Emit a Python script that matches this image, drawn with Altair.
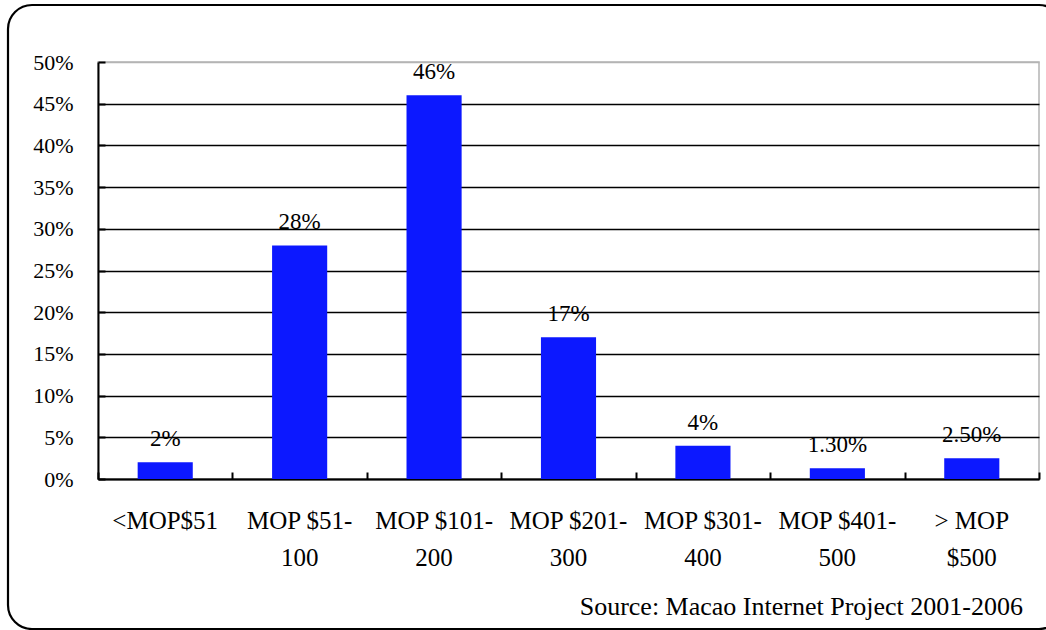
import altair as alt
import pandas as pd

# Monthly spending brackets and share of respondents
categories = ["<MOP$51", "MOP $51-\n100", "MOP $101-\n200", "MOP $201-\n300",
              "MOP $301-\n400", "MOP $401-\n500", "> MOP\n$500"]
shares = [0.02, 0.28, 0.46, 0.17, 0.04, 0.013, 0.025]
labels = ["2%", "28%", "46%", "17%", "4%", "1.30%", "2.50%"]
y_ticks = [0, 0.05, 0.10, 0.15, 0.20, 0.25, 0.30, 0.35, 0.40, 0.45, 0.50]
source_note = "Source: Macao Internet Project 2001-2006"

df = pd.DataFrame({"cat": categories, "share": shares, "label": labels})

FONT = "Liberation Serif"
W, H = 941, 417

x_enc = alt.X(
    "cat:N", sort=categories, title=None,
    scale=alt.Scale(paddingInner=0, paddingOuter=0),
    axis=alt.Axis(labels=False, tickBand="extent", tickSize={"expr": "-7"},
                  tickColor="black", tickWidth=2,
                  domainColor="black", domainWidth=2, grid=False),
)
y_enc = alt.Y(
    "share:Q", title=None,
    scale=alt.Scale(domain=[0, 0.5], nice=False),
    axis=alt.Axis(values=y_ticks, format=".0%", labelFont=FONT, labelFontSize=22,
                  labelColor="black", labelPadding=32,
                  tickSize={"expr": "-7"}, tickColor="black", tickWidth=2,
                  domainColor="black", domainWidth=2,
                  grid=True, gridWidth=1.6,
                  gridColor={"condition": {"test": "datum.value >= 0.5", "value": "#b4b4b4"},
                             "value": "black"}),
)

base = alt.Chart(df)

bars = base.mark_bar(color="#0c18ff", width=alt.RelativeBandSize(0.41)).encode(x=x_enc, y=y_enc)

values_text = base.mark_text(font=FONT, fontSize=23, baseline="bottom", dy=-11,
                             color="black").encode(
    x=alt.X("cat:N", sort=categories), y="share:Q", text="label:N")

# category names under the axis, wrapped on the newline
cat_text = base.mark_text(font=FONT, fontSize=25, baseline="top", lineBreak="\n",
                          lineHeight=37, color="black").encode(
    x=alt.X("cat:N", sort=categories), y=alt.value(H + 30), text="cat:N")

source = alt.Chart(pd.DataFrame({"t": [source_note]})).mark_text(
    font=FONT, fontSize=26, align="right", baseline="alphabetic", color="black"
).encode(x=alt.value(W - 16), y=alt.value(H + 136), text="t:N")

frame = alt.Chart(pd.DataFrame({"k": [0]})).mark_rect(
    fill=None, fillOpacity=0, stroke="black", strokeWidth=2.2, cornerRadius=24
).encode(x=alt.value(-90), x2=alt.value(W + 24), y=alt.value(-57), y2=alt.value(H + 150))

chart = alt.layer(frame, bars, values_text, cat_text, source).properties(
    width=W, height=H,
    autosize=alt.AutoSizeParams(type="none"),
    padding={"left": 98, "top": 62, "right": 7, "bottom": 151},
    background="white",
).configure_view(stroke="#b4b4b4", strokeWidth=1.5)

chart.save("out.html", embed_options={"renderer": "svg", "actions": False})
